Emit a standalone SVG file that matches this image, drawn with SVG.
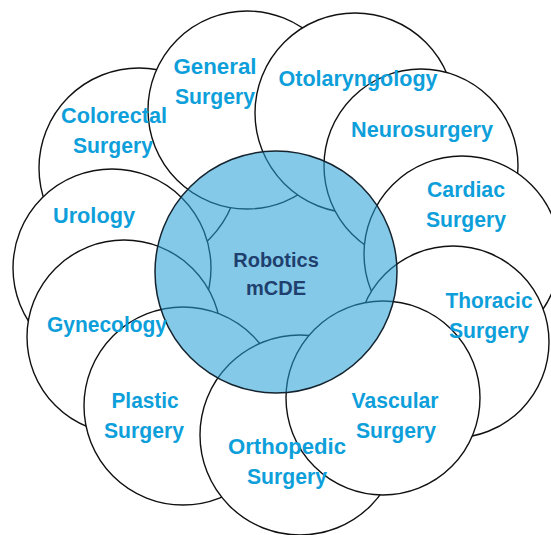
<svg xmlns="http://www.w3.org/2000/svg" width="551" height="535" viewBox="0 0 551 535">
  <style>
    .spec circle { fill: #ffffff; stroke: #111111; stroke-width: 1.4; }
    .hub circle { fill: rgb(36,160,214); fill-opacity: 0.56; stroke: #14232e; stroke-width: 1.5; }
    text { font-family: "Liberation Sans", Arial, sans-serif; font-weight: bold; text-anchor: middle; }
    .lbl { font-size: 22px; fill: #0E9FDB; }
    .hub-lbl { font-size: 20px; fill: #1F3F6E; }
  </style>
  <rect width="551" height="535" fill="#ffffff"/>

  <!-- specialty circles, drawn back to front -->
  <g id="colorectal" class="spec"><circle cx="139" cy="168" r="100"/></g>
  <g id="general" class="spec"><circle cx="247" cy="110" r="99"/></g>
  <g id="otolaryngology" class="spec"><circle cx="355" cy="113" r="100"/></g>
  <g id="neurosurgery" class="spec"><circle cx="421" cy="166" r="97"/></g>
  <g id="cardiac" class="spec"><circle cx="462" cy="254" r="98"/></g>
  <g id="thoracic" class="spec"><circle cx="453" cy="342" r="96"/></g>
  <g id="urology" class="spec"><circle cx="112" cy="268" r="99"/></g>
  <g id="gynecology" class="spec"><circle cx="124" cy="337" r="97"/></g>
  <g id="plastic" class="spec"><circle cx="183" cy="406" r="99"/></g>
  <g id="orthopedic" class="spec"><circle cx="300" cy="435" r="100"/></g>
  <g id="vascular" class="spec"><circle cx="383" cy="398" r="97"/></g>

  <!-- translucent hub -->
  <g id="robotics" class="hub"><circle cx="276" cy="272" r="121"/></g>

  <!-- labels -->
  <g id="labels">
    <text class="lbl" x="215" y="74" textLength="83" lengthAdjust="spacingAndGlyphs">General</text>
    <text class="lbl" x="215" y="104" textLength="80" lengthAdjust="spacingAndGlyphs">Surgery</text>
    <text class="lbl" x="114" y="123" textLength="106" lengthAdjust="spacingAndGlyphs">Colorectal</text>
    <text class="lbl" x="113" y="153" textLength="80" lengthAdjust="spacingAndGlyphs">Surgery</text>
    <text class="lbl" x="94" y="223" textLength="82" lengthAdjust="spacingAndGlyphs">Urology</text>
    <text class="lbl" x="358" y="86" textLength="159" lengthAdjust="spacingAndGlyphs">Otolaryngology</text>
    <text class="lbl" x="422" y="137" textLength="142" lengthAdjust="spacingAndGlyphs">Neurosurgery</text>
    <text class="lbl" x="466" y="197" textLength="78" lengthAdjust="spacingAndGlyphs">Cardiac</text>
    <text class="lbl" x="466" y="227" textLength="80" lengthAdjust="spacingAndGlyphs">Surgery</text>
    <text class="lbl" x="489" y="308" textLength="87" lengthAdjust="spacingAndGlyphs">Thoracic</text>
    <text class="lbl" x="489" y="338" textLength="80" lengthAdjust="spacingAndGlyphs">Surgery</text>
    <text class="lbl" x="395" y="408" textLength="87" lengthAdjust="spacingAndGlyphs">Vascular</text>
    <text class="lbl" x="396" y="438" textLength="80" lengthAdjust="spacingAndGlyphs">Surgery</text>
    <text class="lbl" x="287" y="454" textLength="118" lengthAdjust="spacingAndGlyphs">Orthopedic</text>
    <text class="lbl" x="287" y="484" textLength="80" lengthAdjust="spacingAndGlyphs">Surgery</text>
    <text class="lbl" x="145" y="408" textLength="67" lengthAdjust="spacingAndGlyphs">Plastic</text>
    <text class="lbl" x="144" y="438" textLength="80" lengthAdjust="spacingAndGlyphs">Surgery</text>
    <text class="lbl" x="107" y="332" textLength="120" lengthAdjust="spacingAndGlyphs">Gynecology</text>
    <text class="hub-lbl" x="276" y="267">Robotics</text>
    <text class="hub-lbl" x="276" y="295">mCDE</text>
  </g>
</svg>
